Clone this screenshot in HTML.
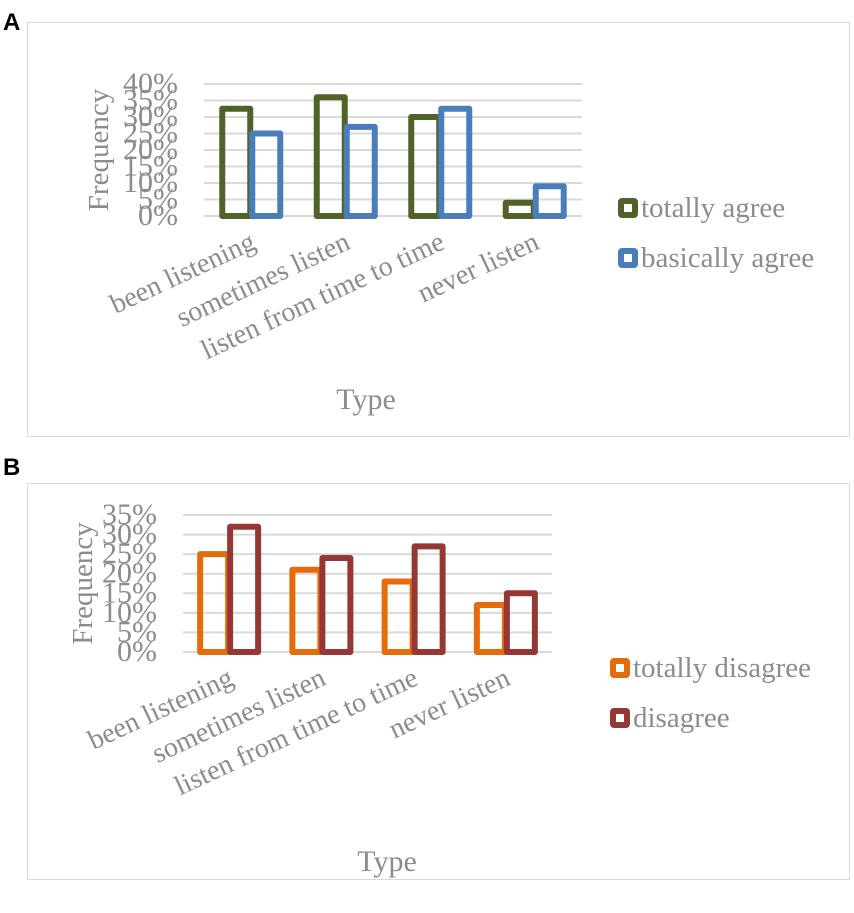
<!DOCTYPE html>
<html><head><meta charset="utf-8"><style>
body{margin:0;background:#fff;}
svg text{font-family:"Liberation Serif",serif;fill:#8c8c8c;}
</style></head><body>
<svg id="s" width="854" height="908" xmlns="http://www.w3.org/2000/svg">
<text x="3" y="30" style="font-family:'Liberation Sans',sans-serif;font-weight:bold;font-size:24px;fill:#000">A</text>
<text x="3" y="475" style="font-family:'Liberation Sans',sans-serif;font-weight:bold;font-size:24px;fill:#000">B</text>
<rect x="27.5" y="22.5" width="822" height="414" fill="none" stroke="#d9d9d9"/>
<rect x="27.5" y="483.5" width="822" height="396" fill="none" stroke="#d9d9d9"/>
<g id="ga"></g><g id="gb"></g>
</svg>
<script>
const categories=["been listening","sometimes listen","listen from time to time","never listen"];
const seriesA1=[32.5,36,30,4];
const seriesA2=[25,27,32.5,9];
const seriesB1=[25,21,18,12];
const seriesB2=[32,24,27,15];
const ticksA=[0,5,10,15,20,25,30,35,40];
const ticksB=[0,5,10,15,20,25,30,35];
const NS="http://www.w3.org/2000/svg";
function mk(p,t,a){const e=document.createElementNS(NS,t);for(const k in a)e.setAttribute(k,a[k]);p.appendChild(e);return e;}
function chart(g,cfg){
  const x0=cfg.x0,x1=cfg.x1,y0=cfg.y0,y1=cfg.y1,max=cfg.ticks[cfg.ticks.length-1];
  const ys=v=>y0-(v/max)*(y0-y1);
  const cw=(x1-x0)/categories.length;
  cfg.ticks.forEach(t=>{
    const l=mk(g,'line',{x1:x0,x2:x1,y1:ys(t),y2:ys(t),stroke:'#d9d9d9','stroke-width':2});
    
    
    const tx=mk(g,'text',{x:x0-26,y:ys(t)+9,'text-anchor':'end','font-size':30});
    tx.textContent=t+'%';
    
    
  });
  const bw=28;
  categories.forEach((c,i)=>{
    const cx=x0+cw*(i+0.5);
    [[cfg.s1,cfg.c1,-bw],[cfg.s2,cfg.c2,0]].forEach(([s,col,off],j)=>{
      const r=mk(g,'rect',{x:cx+off+(j?1:-1),y:ys(s[i]),width:bw,height:y0-ys(s[i]),fill:'none',stroke:col,'stroke-width':6,'stroke-linejoin':'round'});
      
      
    });
    const lx=cx+6,ly=y0+cfg.labOff;
    const t=mk(g,'text',{x:lx,y:ly,'text-anchor':'end','font-size':28,transform:`rotate(-25 ${lx} ${ly})`});
    t.textContent=c;
    
    
  });
  const fy=(y0+y1)/2, fx=cfg.fx;
  const f=mk(g,'text',{x:fx,y:fy,'text-anchor':'middle','font-size':29,transform:`rotate(-90 ${fx} ${fy})`});
  f.textContent='Frequency';
  
  
  const ty=mk(g,'text',{x:cfg.typeX,y:cfg.typeY,'text-anchor':'middle','font-size':30});
  ty.textContent='Type';
  
  
  cfg.leg.forEach((L,k)=>{
    const m=mk(g,'rect',{x:L[0]+3,y:L[1]+3,width:14,height:14,fill:'#fff',stroke:L[3],'stroke-width':6,rx:1});
    
    
    const lt=mk(g,'text',{x:L[0]+23,y:L[1]+19,'font-size':29});
    lt.textContent=L[2];
    
    
  });
}
chart(document.getElementById('ga'),{x0:204,x1:582,y0:216,y1:84,ticks:ticksA,s1:seriesA1,s2:seriesA2,c1:'#4f6228',c2:'#4a7ebb',labOff:32,fx:108,typeX:366,typeY:409,
 leg:[[618,198,'totally agree','#4f6228'],[618,248,'basically agree','#4a7ebb']]});
chart(document.getElementById('gb'),{x0:183,x1:552,y0:652,y1:515,ticks:ticksB,s1:seriesB1,s2:seriesB2,c1:'#e46c0a',c2:'#953735',labOff:32,fx:92,typeX:387,typeY:871,
 leg:[[610,658,'totally disagree','#e46c0a'],[610,708,' disagree','#953735']]});
</script>
</body></html>
